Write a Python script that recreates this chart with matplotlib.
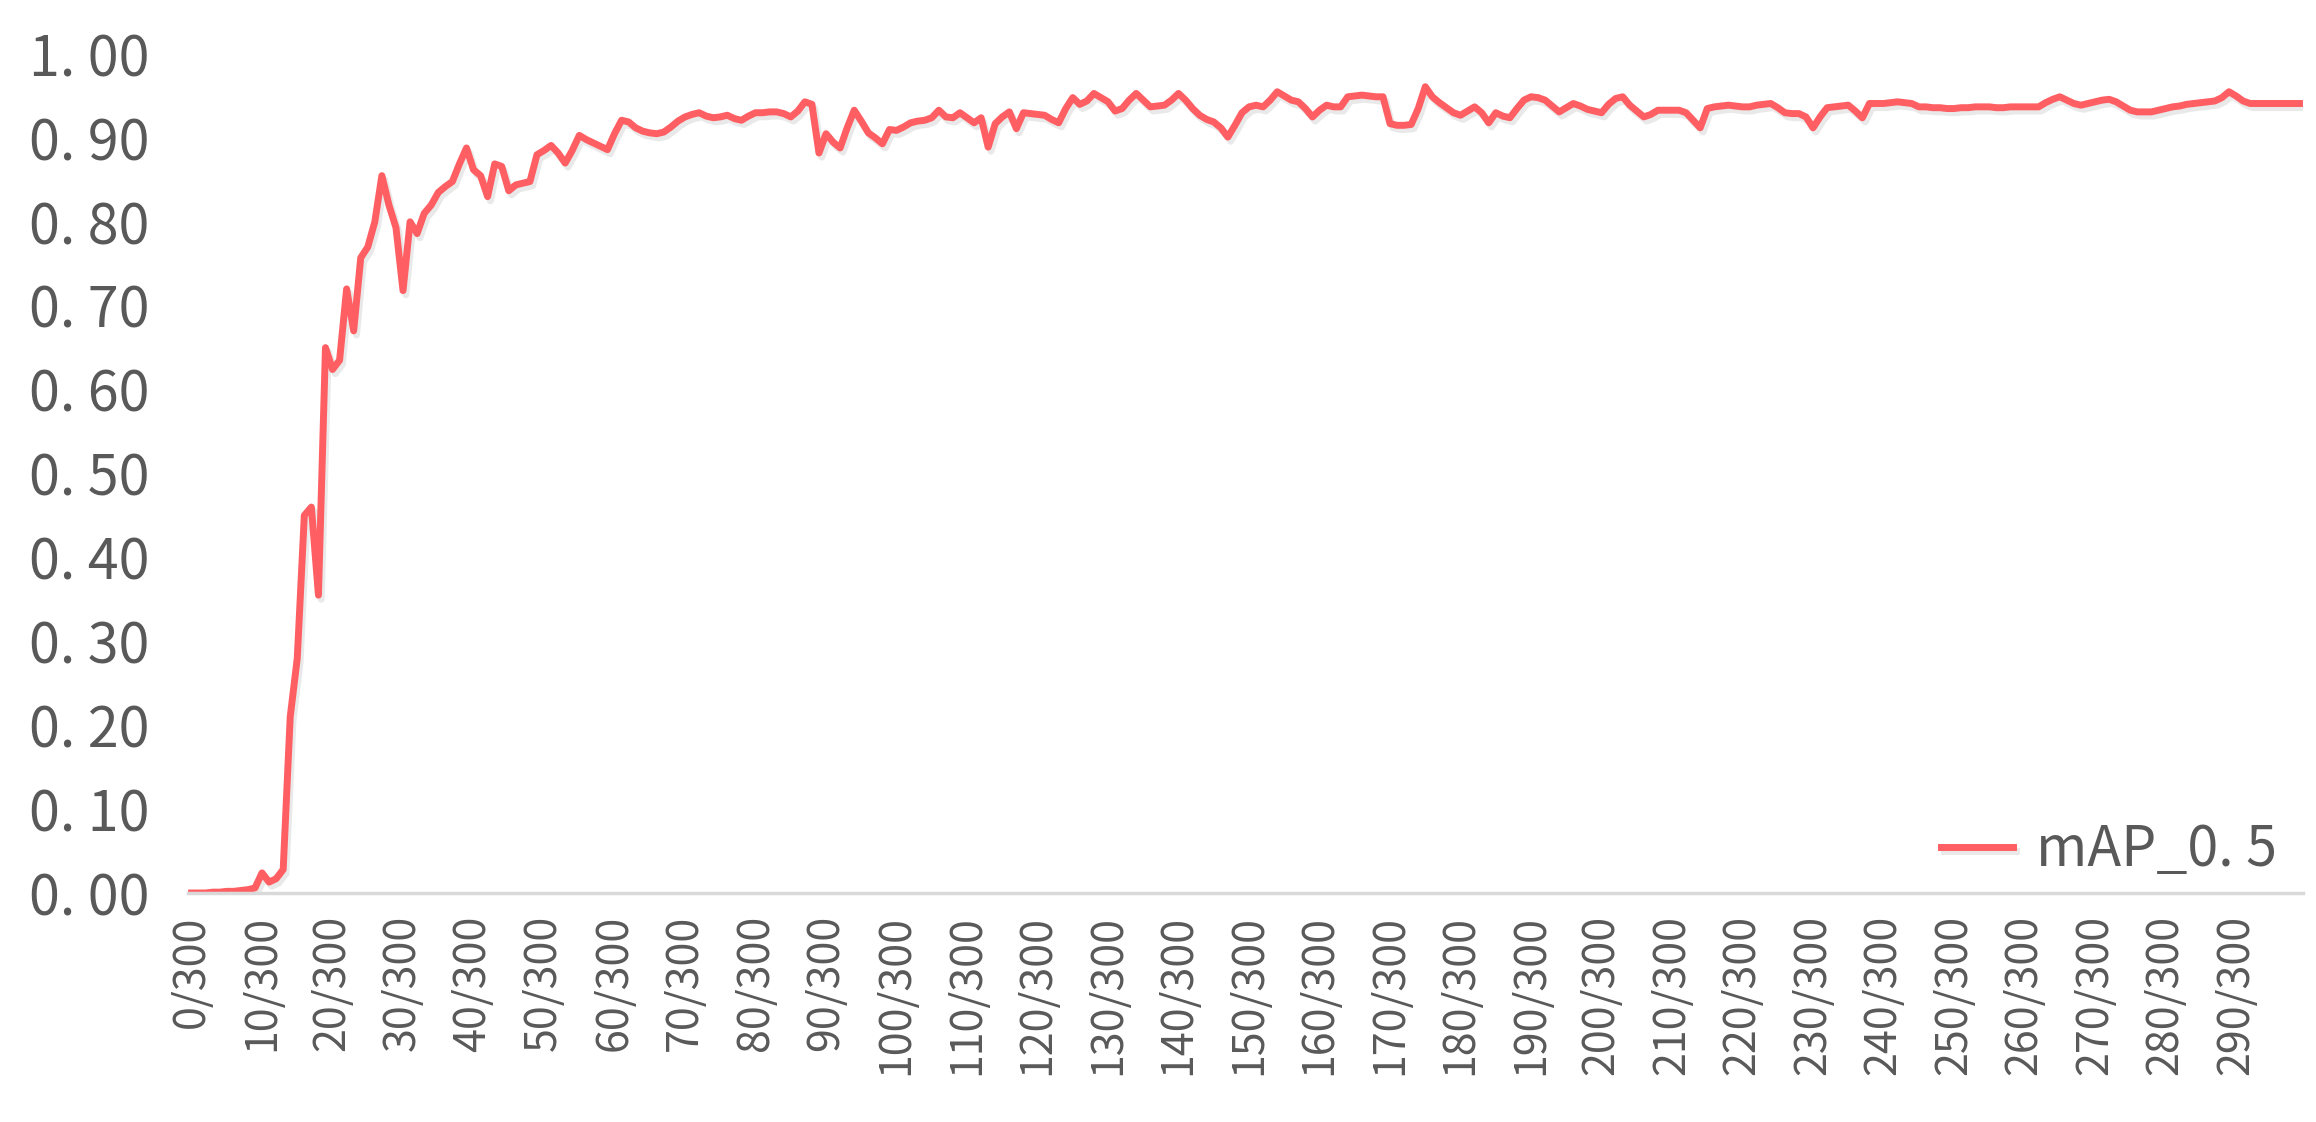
import matplotlib
matplotlib.use("Agg")
import matplotlib.pyplot as plt
import matplotlib.patheffects as pe
import numpy as np

# ---- data ----
epochs = list(range(300))
map05 = [
    # 0-9
    0.000, 0.000, 0.000, 0.001, 0.001, 0.002, 0.002, 0.003, 0.004, 0.006,
    # 10-19
    0.024, 0.013, 0.017, 0.028, 0.210, 0.280, 0.450, 0.460, 0.355, 0.650,
    # 20-29
    0.624, 0.635, 0.720, 0.670, 0.757, 0.770, 0.800, 0.855, 0.820, 0.793,
    # 30-39
    0.718, 0.800, 0.786, 0.810, 0.820, 0.835, 0.842, 0.848, 0.869, 0.888,
    # 40-49
    0.862, 0.855, 0.830, 0.869, 0.866, 0.837, 0.844, 0.846, 0.848, 0.880,
    # 50-59
    0.885, 0.891, 0.882, 0.870, 0.885, 0.903, 0.898, 0.894, 0.890, 0.886,
    # 60-69
    0.905, 0.921, 0.919, 0.912, 0.908, 0.906, 0.905, 0.907, 0.913, 0.920,
    # 70-79
    0.925, 0.928, 0.930, 0.926, 0.924, 0.925, 0.927, 0.923, 0.921, 0.926,
    # 80-89
    0.930, 0.930, 0.931, 0.931, 0.929, 0.925, 0.932, 0.943, 0.940, 0.882,
    # 90-99
    0.905, 0.895, 0.888, 0.912, 0.933, 0.920, 0.906, 0.900, 0.893, 0.910,
    # 100-109
    0.909, 0.913, 0.918, 0.920, 0.921, 0.924, 0.933, 0.925, 0.924, 0.930,
    # 110-119
    0.924, 0.918, 0.924, 0.889, 0.917, 0.925, 0.931, 0.911, 0.930, 0.929,
    # 120-129
    0.928, 0.927, 0.922, 0.918, 0.935, 0.948, 0.940, 0.944, 0.953, 0.948,
    # 130-139
    0.943, 0.932, 0.935, 0.945, 0.953, 0.945, 0.937, 0.938, 0.939, 0.945,
    # 140-149
    0.953, 0.945, 0.935, 0.927, 0.922, 0.919, 0.912, 0.901, 0.915, 0.930,
    # 150-159
    0.937, 0.939, 0.937, 0.945, 0.955, 0.950, 0.945, 0.943, 0.935, 0.925,
    # 160-169
    0.933, 0.939, 0.937, 0.937, 0.949, 0.950, 0.951, 0.950, 0.949, 0.949,
    # 170-179
    0.917, 0.915, 0.915, 0.916, 0.935, 0.961, 0.949, 0.942, 0.936, 0.930,
    # 180-189
    0.927, 0.932, 0.937, 0.930, 0.918, 0.930, 0.926, 0.924, 0.935, 0.945,
    # 190-199
    0.949, 0.948, 0.945, 0.938, 0.931, 0.936, 0.941, 0.938, 0.934, 0.932,
    # 200-209
    0.930, 0.940, 0.947, 0.949, 0.939, 0.932, 0.925, 0.928, 0.933, 0.933,
    # 210-219
    0.933, 0.933, 0.930, 0.921, 0.912, 0.935, 0.937, 0.938, 0.939, 0.938,
    # 220-229
    0.937, 0.937, 0.939, 0.940, 0.941, 0.936, 0.930, 0.929, 0.929, 0.925,
    # 230-239
    0.912, 0.925, 0.936, 0.937, 0.938, 0.939, 0.932, 0.924, 0.941, 0.941,
    # 240-249
    0.941, 0.942, 0.943, 0.942, 0.941, 0.937, 0.937, 0.936, 0.936, 0.935,
    # 250-259
    0.935, 0.936, 0.936, 0.937, 0.937, 0.937, 0.936, 0.936, 0.937, 0.937,
    # 260-269
    0.937, 0.937, 0.937, 0.942, 0.946, 0.949, 0.945, 0.941, 0.939, 0.941,
    # 270-279
    0.943, 0.945, 0.946, 0.943, 0.938, 0.933, 0.931, 0.931, 0.931, 0.933,
    # 280-289
    0.935, 0.937, 0.938, 0.940, 0.941, 0.942, 0.943, 0.944, 0.948, 0.955,
    # 290-299
    0.950, 0.944, 0.941, 0.941, 0.941, 0.941, 0.941, 0.941, 0.941, 0.941,
]
xtick_pos = list(range(0, 300, 10))
xtick_labels = [f"{e}/300" for e in xtick_pos]
ytick_vals = [0.0, 0.1, 0.2, 0.3, 0.4, 0.5, 0.6, 0.7, 0.8, 0.9, 1.0]
ytick_labels = [f"{v:.2f}".replace(".", ". ") for v in ytick_vals]
series_label = "mAP_0. 5"

# ---- style ----
plt.rcParams['font.family'] = ['Noto Sans CJK SC', 'DejaVu Sans']
text_color = '#595959'
line_color = '#FF5E63'

fig = plt.figure(figsize=(23.16, 11.22), dpi=100)
ax = fig.add_axes([188/2316, 1 - 893/1122, (2303-188)/2316, (893-54)/1122])

ax.plot(epochs, map05, color=line_color, lw=5.0, label=series_label,
        solid_joinstyle='round',
        path_effects=[pe.SimpleLineShadow(offset=(2, -3), shadow_color='#888888', alpha=0.18),
                      pe.Normal()])

ax.set_xlim(-0.5, 299.5)
ax.set_ylim(0, 1.0)
ax.set_yticks(ytick_vals)
ax.set_yticklabels(ytick_labels)
ax.set_xticks(xtick_pos)
ax.set_xticklabels(xtick_labels, rotation=90)

ax.tick_params(axis='y', length=0, pad=28, labelsize=40, labelcolor=text_color)
ax.tick_params(axis='x', length=0, pad=16, labelsize=31, labelcolor=text_color)

for s in ['top', 'right', 'left']:
    ax.spines[s].set_visible(False)
ax.spines['bottom'].set_color('#D9D9D9')
ax.spines['bottom'].set_linewidth(2.5)

leg = ax.legend(loc='center right', bbox_to_anchor=(0.998, 0.051), frameon=False,
                fontsize=40, handlelength=1.3, handletextpad=0.4,
                labelcolor=text_color, borderaxespad=0.0)

fig.savefig('out.png', dpi=100, facecolor='white')
